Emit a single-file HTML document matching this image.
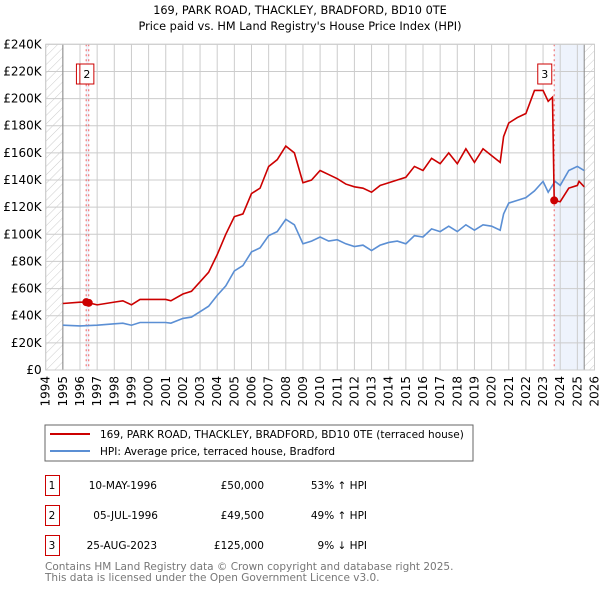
<!DOCTYPE html>
<html><head><meta charset="utf-8"><style>
body{margin:0;background:#fff;width:600px;height:590px;overflow:hidden;font-family:"DejaVu Sans","Liberation Sans",sans-serif}
svg text{font-family:"DejaVu Sans","Liberation Sans",sans-serif}
</style></head><body>
<svg id="c" width="600" height="590" xmlns="http://www.w3.org/2000/svg">
<defs><pattern id="h" width="6" height="6" patternUnits="userSpaceOnUse" patternTransform="rotate(45)"><line x1="0" y1="0" x2="0" y2="6" stroke="#ccc" stroke-width="1"/></pattern></defs>
<text x="300" y="14" text-anchor="middle" font-size="11.3">169, PARK ROAD, THACKLEY, BRADFORD, BD10 0TE</text>
<text x="300" y="30" text-anchor="middle" font-size="11.3">Price paid vs. HM Land Registry's House Price Index (HPI)</text>
<g id="plot"></g>
<g>
<rect x="45" y="425" width="428" height="36" fill="#fff" stroke="#666"/>
<line x1="50" y1="434" x2="90" y2="434" stroke="#cc0000" stroke-width="2"/>
<text x="100" y="438" font-size="10.5">169, PARK ROAD, THACKLEY, BRADFORD, BD10 0TE (terraced house)</text>
<line x1="50" y1="451" x2="90" y2="451" stroke="#5b8fd4" stroke-width="2"/>
<text x="100" y="455" font-size="10.5">HPI: Average price, terraced house, Bradford</text>
</g>
<g font-size="10.5">
<rect x="45.5" y="475.5" width="14" height="20" fill="none" stroke="#cc0000"/><text x="52" y="489" text-anchor="middle">1</text>
<text x="157" y="489" text-anchor="end">10-MAY-1996</text><text x="264" y="489" text-anchor="end">£50,000</text><text x="367" y="489" text-anchor="end">53% ↑ HPI</text>
<rect x="45.5" y="505.5" width="14" height="20" fill="none" stroke="#cc0000"/><text x="52" y="519" text-anchor="middle">2</text>
<text x="158" y="519" text-anchor="end">05-JUL-1996</text><text x="264" y="519" text-anchor="end">£49,500</text><text x="367" y="519" text-anchor="end">49% ↑ HPI</text>
<rect x="45.5" y="535.5" width="14" height="20" fill="none" stroke="#cc0000"/><text x="52" y="549" text-anchor="middle">3</text>
<text x="157" y="549" text-anchor="end">25-AUG-2023</text><text x="264" y="549" text-anchor="end">£125,000</text><text x="367" y="549" text-anchor="end">9% ↓ HPI</text>
</g>
<text x="45" y="570" font-size="10.5" fill="#777">Contains HM Land Registry data © Crown copyright and database right 2025.</text>
<text x="45" y="581" font-size="10.5" fill="#777">This data is licensed under the Open Government Licence v3.0.</text>
</svg>
<script>
const yTicks=[0,20,40,60,80,100,120,140,160,180,200,220,240];
const years=[1994,1995,1996,1997,1998,1999,2000,2001,2002,2003,2004,2005,2006,2007,2008,2009,2010,2011,2012,2013,2014,2015,2016,2017,2018,2019,2020,2021,2022,2023,2024,2025,2026];
const hpiT=[1995,1996,1997,1998,1998.5,1999,1999.5,2000,2001,2001.3,2002,2002.5,2003,2003.5,2004,2004.5,2005,2005.5,2006,2006.5,2007,2007.5,2008,2008.5,2009,2009.5,2010,2010.5,2011,2011.5,2012,2012.5,2013,2013.5,2014,2014.5,2015,2015.5,2016,2016.5,2017,2017.5,2018,2018.5,2019,2019.5,2020,2020.5,2020.7,2021,2021.5,2022,2022.5,2023,2023.3,2023.7,2024,2024.5,2025,2025.4];
const hpiV=[33,32.5,33,34,34.5,33,35,35,35,34.5,38,39,43,47,55,62,73,77,87,90,99,102,111,107,93,95,98,95,96,93,91,92,88,92,94,95,93,99,98,104,102,106,102,107,103,107,106,103,115,123,125,127,132,139,131,139,136,147,150,147];
const redT=[1995,1996,1996.36,1996.51,1997,1998,1998.5,1999,1999.5,2000,2001,2001.3,2002,2002.5,2003,2003.5,2004,2004.5,2005,2005.5,2006,2006.5,2007,2007.5,2008,2008.5,2009,2009.5,2010,2010.5,2011,2011.5,2012,2012.5,2013,2013.5,2014,2014.5,2015,2015.5,2016,2016.5,2017,2017.5,2018,2018.5,2019,2019.5,2020,2020.5,2020.7,2021,2021.5,2022,2022.5,2023,2023.3,2023.55,2023.65,2024,2024.5,2025,2025.1,2025.4];
const redV=[49,50,50,49.5,48,50,51,48,52,52,52,51,56,58,65,72,85,100,113,115,130,134,150,155,165,160,138,140,147,144,141,137,135,134,131,136,138,140,142,150,147,156,152,160,152,163,153,163,158,153,172,182,186,189,206,206,198,201,125,124,134,136,139,135];
const sales=[[1996.36,50],[1996.51,49.5],[2023.65,125]];
const NS="http://www.w3.org/2000/svg";
const X0=45.7,PX=17.15,Y0=370,PY=325.7/240;
const x=t=>X0+(t-1994)*PX, y=v=>Y0-v*PY;
const g=document.getElementById('plot');
function mk(tag,at,par){const e=document.createElementNS(NS,tag);for(const k in at)e.setAttribute(k,at[k]);(par||g).appendChild(e);return e;}
const L=x(1994),R=x(2026);
mk('rect',{x:L,y:y(240),width:x(1995)-L,height:y(0)-y(240),fill:'url(#h)'});
mk('rect',{x:x(2025.4),y:y(240),width:R-x(2025.4),height:y(0)-y(240),fill:'url(#h)'});
mk('rect',{x:x(2023.65),y:y(240),width:x(2025.4)-x(2023.65),height:y(0)-y(240),fill:'#eef3fc'});
mk('rect',{x:x(1996.36),y:y(240),width:x(1996.51)-x(1996.36),height:y(0)-y(240),fill:'#eef3fc'});
yTicks.forEach(v=>{const l=mk('line',{x1:L,x2:R,y1:y(v),y2:y(v),stroke:'#ccc'});

const t=mk('text',{x:L-4,y:y(v)+4,'text-anchor':'end','font-size':'12'});t.textContent=v?'£'+v+'K':'£0';
});
years.forEach(yr=>{const l=mk('line',{x1:x(yr),x2:x(yr),y1:y(240),y2:y(0),stroke:'#ccc'});

const t=mk('text',{x:0,y:0,'font-size':'12','text-anchor':'end',transform:`translate(${x(yr)+4},${Y0+6}) rotate(-90)`});t.textContent=yr;
});
mk('line',{x1:x(1995),x2:x(1995),y1:y(240),y2:y(0),stroke:'#888'});
mk('line',{x1:x(2025.4),x2:x(2025.4),y1:y(240),y2:y(0),stroke:'#888'});
sales.forEach(s=>{const l=mk('line',{x1:x(s[0]),x2:x(s[0]),y1:y(240),y2:y(0),stroke:'#f06060','stroke-dasharray':'2,3'});
});
const hp=mk('polyline',{points:hpiT.map((t,i)=>x(t)+','+y(hpiV[i])).join(' '),fill:'none',stroke:'#5b8fd4','stroke-width':1.6});

const rp=mk('polyline',{points:redT.map((t,i)=>x(t)+','+y(redV[i])).join(' '),fill:'none',stroke:'#cc0000','stroke-width':1.6});

sales.forEach(s=>{const c=mk('circle',{cx:x(s[0]),cy:y(s[1]),r:4,fill:'#cc0000'});
});
[[1996.2,'1'],[1996.4,'2'],[2023.1,'3']].forEach(b=>{const bx=x(b[0])-7;
const r=mk('rect',{x:bx,y:64,width:14,height:20,fill:'#fff',stroke:'#cc0000'});

const t=mk('text',{x:bx+7,y:78,'text-anchor':'middle','font-size':'11'});t.textContent=b[1];
});
mk('rect',{x:L,y:y(240),width:R-L,height:y(0)-y(240),fill:'none',stroke:'#ccc'});
</script>
</body></html>
